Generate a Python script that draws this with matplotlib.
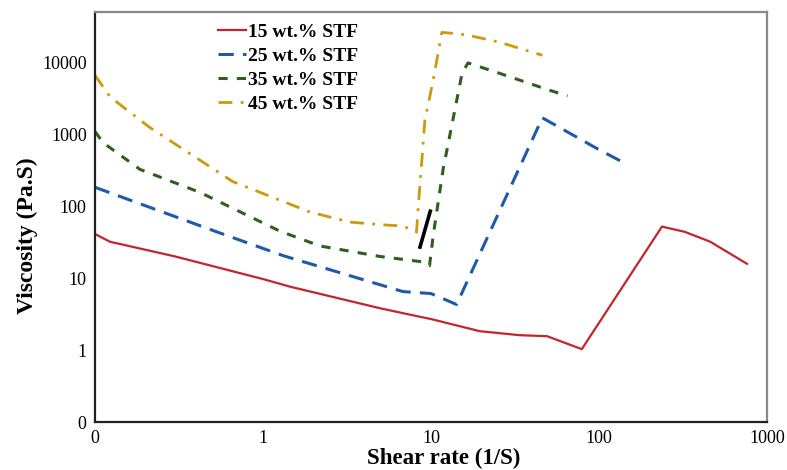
import matplotlib
matplotlib.use("Agg")
import matplotlib.pyplot as plt
from matplotlib.ticker import FixedLocator, FixedFormatter, NullLocator

plt.rcParams['font.family'] = ['Liberation Serif', 'DejaVu Serif']

# ---- data ----
red_x = [0.1, 0.123, 0.3, 1.0, 1.45, 5.0, 8.6, 10.0, 19.5, 33.7, 49, 79, 237, 324, 460, 760]
red_y = [41, 32, 20, 9.7, 7.6, 3.8, 2.9, 2.7, 1.83, 1.61, 1.56, 1.03, 52, 44, 32, 15.8]

blue_x = [0.1, 0.53, 1.32, 2.5, 6.8, 10.0, 14.2, 46, 100, 147]
blue_y = [183, 44, 20.5, 13.1, 6.5, 6.1, 4.3, 1690, 610, 380]

green_x = [0.1, 0.112, 0.185, 0.42, 1.26, 2.18, 4.97, 8.96, 9.8, 10.3, 11.8, 13.5, 15.3, 16.6, 25.7, 49, 65]
green_y = [1090, 760, 325, 156, 45, 28, 20, 16.8, 14.9, 38.6, 324, 1585, 7000, 9800, 7000, 4200, 3400]

orange_x = [0.1, 0.123, 0.21, 0.66, 1.9, 3.3, 5.2, 6.8, 8.2, 8.4, 8.8, 9.2, 10.3, 11.6, 14.2, 17, 25.6, 46]
orange_y = [6600, 3300, 1260, 220, 83, 60, 55, 53, 43.6, 100, 400, 1585, 5600, 26000, 25000, 23500, 19000, 12500]

black_x = [8.6, 9.9]
black_y = [27, 85]

labels = ['15 wt.% STF', '25 wt.% STF', '35 wt.% STF', '45 wt.% STF']

x_ticks = [0.1, 1, 10, 100, 1000]
x_ticklabels = ['0', '1', '10', '100', '1000']
y_ticks = [0.1, 1, 10, 100, 1000, 10000]
y_ticklabels = ['0', '1', '10', '100', '1000', '10000']

# ---- figure ----
fig = plt.figure(figsize=(7.87, 4.70), dpi=100)
ax = fig.add_axes([0.1207, 0.1021, 0.8539, 0.8724])

ax.plot(red_x, red_y, color='#C0262C', lw=1.6, ls='-', label=labels[0])
ax.plot(blue_x, blue_y, color='#1E5AA8', lw=2.2, ls=(0, (5, 3)), label=labels[1])
ax.plot(green_x, green_y, color='#2F5F1F', lw=2.2, ls=(0, (3, 3)), label=labels[2])
ax.plot(orange_x, orange_y, color='#CC9A0E', lw=2.0, ls=(0, (5, 3, 1, 3)), label=labels[3])
ax.plot(black_x, black_y, color='black', lw=2.6, ls='-')

ax.set_xscale('log')
ax.set_yscale('log')
ax.set_xlim(0.1, 1000)
ax.set_ylim(0.1, 50000)

ax.xaxis.set_major_locator(FixedLocator(x_ticks))
ax.xaxis.set_major_formatter(FixedFormatter(x_ticklabels))
ax.xaxis.set_minor_locator(NullLocator())
ax.yaxis.set_major_locator(FixedLocator(y_ticks))
ax.yaxis.set_major_formatter(FixedFormatter(y_ticklabels))
ax.yaxis.set_minor_locator(NullLocator())
ax.tick_params(axis='both', length=0, labelsize=13, pad=6)

for s in ['left', 'bottom']:
    ax.spines[s].set_color('#222222')
    ax.spines[s].set_linewidth(1.6)
for s in ['top', 'right']:
    ax.spines[s].set_color('#888888')
    ax.spines[s].set_linewidth(1.6)

ax.set_xlabel('Shear rate (1/S)', fontsize=16.5, fontweight='bold')
ax.set_ylabel('Viscosity (Pa.S)', fontsize=17, fontweight='bold')
ax.xaxis.set_label_coords(0.519, -0.062)
ax.yaxis.set_label_coords(-0.085, 0.455)

leg = ax.legend(loc='upper left', bbox_to_anchor=(0.183, 0.973), frameon=False,
                prop={'family': 'Liberation Serif', 'weight': 'bold', 'size': 14},
                handlelength=1.45, handletextpad=0.12, labelspacing=0.33,
                borderpad=0, borderaxespad=0)

fig.savefig('out.png', dpi=100)
